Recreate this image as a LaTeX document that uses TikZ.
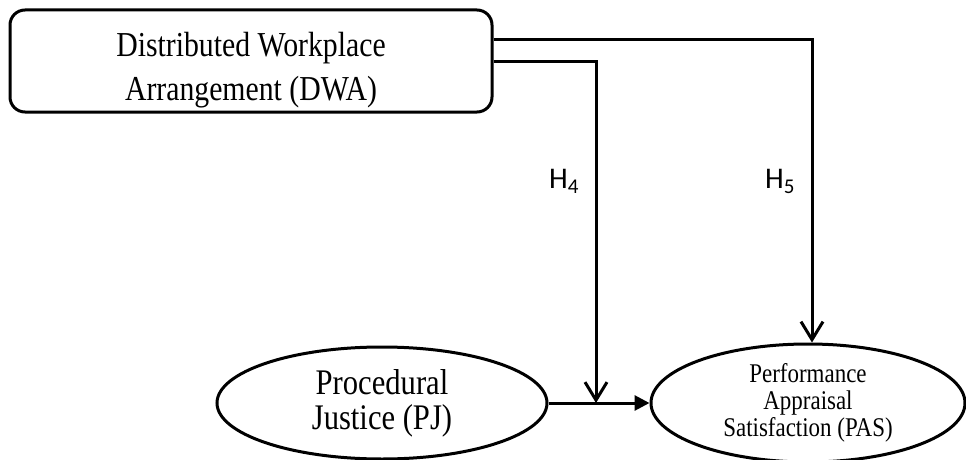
\documentclass[tikz,border=0pt]{standalone}
\usepackage{fontspec}
\setmainfont{Liberation Serif}[FakeStretch=0.85]
\newfontfamily\hfont{Carlito}
\usetikzlibrary{shapes.geometric,arrows.meta}
\begin{document}
\begin{tikzpicture}[x=1pt,y=-1pt, line width=3pt,
 box/.style={draw, rounded corners=15pt, minimum width=482pt, minimum height=102pt, inner sep=0pt, align=center},
 oval/.style={draw, ellipse, inner sep=0pt, align=center},
 barb/.style={-{Straight Barb[length=18pt,width=22pt,line width=3pt]}},
 tri/.style={-{Triangle[length=15pt,width=15pt]}},
 hlab/.style={font=\hfont\fontsize{30}{32}\selectfont, inner sep=0pt}]
\useasboundingbox (0,0) rectangle (966,460);
\node[box, font=\fontsize{35}{44}\selectfont] (dwa) at (251,61) {\rule{0pt}{42pt}Distributed Workplace\\Arrangement (DWA)};
\node[oval, minimum width=330pt, minimum height=112pt, font=\fontsize{36}{35}\selectfont] (pj) at (382,403) {Procedural\\Justice (PJ)};
\node[oval, minimum width=314pt, minimum height=118pt, font=\fontsize{27}{27}\selectfont] (pas) at (808,403) {Performance\\Appraisal\\Satisfaction (PAS)};
\coordinate (m) at (596,403);
\draw[tri] (pj.east) -- (pas.west);
\draw[barb] ([yshift=21pt]dwa.east) -| ([xshift=4pt]pas.north);
\draw[barb] ([yshift=-1pt]dwa.east) -| (m);
\node[hlab] (h4) at (564,181) {H\textsubscript{4}};
\node[hlab] (h5) at (780,181) {H\textsubscript{5}};
\end{tikzpicture}
\end{document}
